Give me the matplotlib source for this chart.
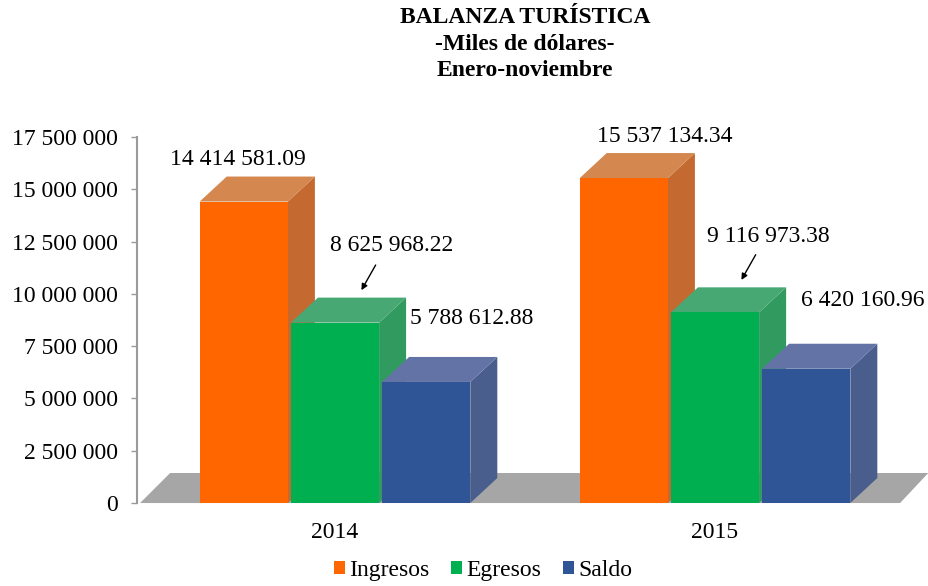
# Balanza turística, enero-noviembre (miles de dólares)
import numpy as np
import matplotlib.pyplot as plt
from matplotlib.patches import Polygon, Patch
from matplotlib.ticker import FuncFormatter

# Data
years = ["2014", "2015"]
series = ["Ingresos", "Egresos", "Saldo"]
ingresos = [14414581.09, 15537134.34]
egresos = [8625968.22, 9116973.38]
saldo = [5788612.88, 6420160.96]
values = [ingresos, egresos, saldo]

# Colours: front, top, side
front_col = ["#FF6600", "#00B050", "#2F5597"]
top_col = ["#D4874F", "#47A874", "#6373A6"]
side_col = ["#C46A30", "#319A5E", "#4A5E8E"]

plt.rcParams["font.family"] = ["Liberation Serif", "DejaVu Serif"]

fig = plt.figure(figsize=(9.29, 5.86), dpi=100)
ax = fig.add_axes([0.1475, 0.1416, 0.8353, 0.6246])
ax.set_xlim(-0.521, 1.521)
ax.set_ylim(0, 17.5e6)

# pixel -> data conversion for the pseudo 3D depth
px_x = 1 / 380.0
px_y = 17.5e6 / 366.0
dx, dy = 27 * px_x, 25 * px_y

x = np.arange(len(years))
width = 0.232
offsets = [-0.24, 0.0, 0.24]

# floor
floor = Polygon([(-0.513, 0), (1.487, 0), (1.561, 30 * px_y), (-0.434, 30 * px_y)],
                closed=True, facecolor="#A6A6A6", edgecolor="none",
                zorder=1, clip_on=False)
ax.add_patch(floor)

for j, vals in enumerate(values):
    bars = ax.bar(x + offsets[j], vals, width, color=front_col[j],
                  edgecolor="none", label=series[j])
    for b, v in zip(bars, vals):
        x0 = b.get_x()
        x1 = x0 + b.get_width()
        side = Polygon([(x1, 0), (x1 + dx, dy), (x1 + dx, v + dy), (x1, v)],
                       facecolor=side_col[j], edgecolor="none",
                       zorder=2 + 2 * j, clip_on=False)
        top = Polygon([(x0, v), (x0 + dx, v + dy), (x1 + dx, v + dy), (x1, v)],
                      facecolor=top_col[j], edgecolor="none",
                      zorder=2 + 2 * j, clip_on=False)
        ax.add_patch(side)
        ax.add_patch(top)
        b.set_zorder(3 + 2 * j)
        b.set_clip_on(False)

# value labels (offsets in pixels from the top of the front face)
label_off = [[(-6, 42), (41, 42)],
             [(57, 77), (53, 76)],
             [(45, 63), (57, 68)]]
for j, vals in enumerate(values):
    for i, v in enumerate(vals):
        xc = x[i] + offsets[j]
        txt = f"{v:,.2f}".replace(",", " ")
        ax.annotate(txt, xy=(xc, v), xytext=label_off[j][i],
                    textcoords="offset pixels", ha="center", va="center",
                    fontsize=17, zorder=20, annotation_clip=False)

# arrows pointing to the Egresos bars
for i, v in enumerate(egresos):
    xc = x[i] + offsets[1]
    ax.annotate("", xy=(xc + 25 * px_x, v + 30 * px_y),
                xytext=(xc + 42 * px_x, v + 60 * px_y),
                arrowprops=dict(arrowstyle="-|>", color="black", lw=1,
                                mutation_scale=9),
                zorder=20, annotation_clip=False)

# axes styling
for s in ["top", "right", "bottom"]:
    ax.spines[s].set_visible(False)
ax.spines["left"].set_color("#9A9A9A")
ax.spines["left"].set_linewidth(1.5)
ax.set_yticks(np.arange(0, 17.5e6 + 1, 2.5e6))
ax.yaxis.set_major_formatter(FuncFormatter(lambda v, p: f"{v:,.0f}".replace(",", " ")))
ax.tick_params(axis="y", length=4, width=1, color="#9A9A9A", pad=10, labelsize=17)
ax.set_xticks(x)
ax.set_xticklabels(years)
ax.tick_params(axis="x", length=0, pad=14, labelsize=17)

fig.text(0.565, 0.9875, "BALANZA TURÍSTICA\n-Miles de dólares-\nEnero-noviembre",
         ha="center", va="top", fontsize=17, fontweight="bold", linespacing=1.33)

handles = [Patch(facecolor=c, edgecolor="none") for c in front_col]
fig.legend(handles, series, loc="center", bbox_to_anchor=(0.52, 0.027), ncol=3,
           frameon=False, fontsize=17, handlelength=0.47, handleheight=0.47,
           handletextpad=0.2, columnspacing=0.9)

fig.savefig("out.png", dpi=100)
